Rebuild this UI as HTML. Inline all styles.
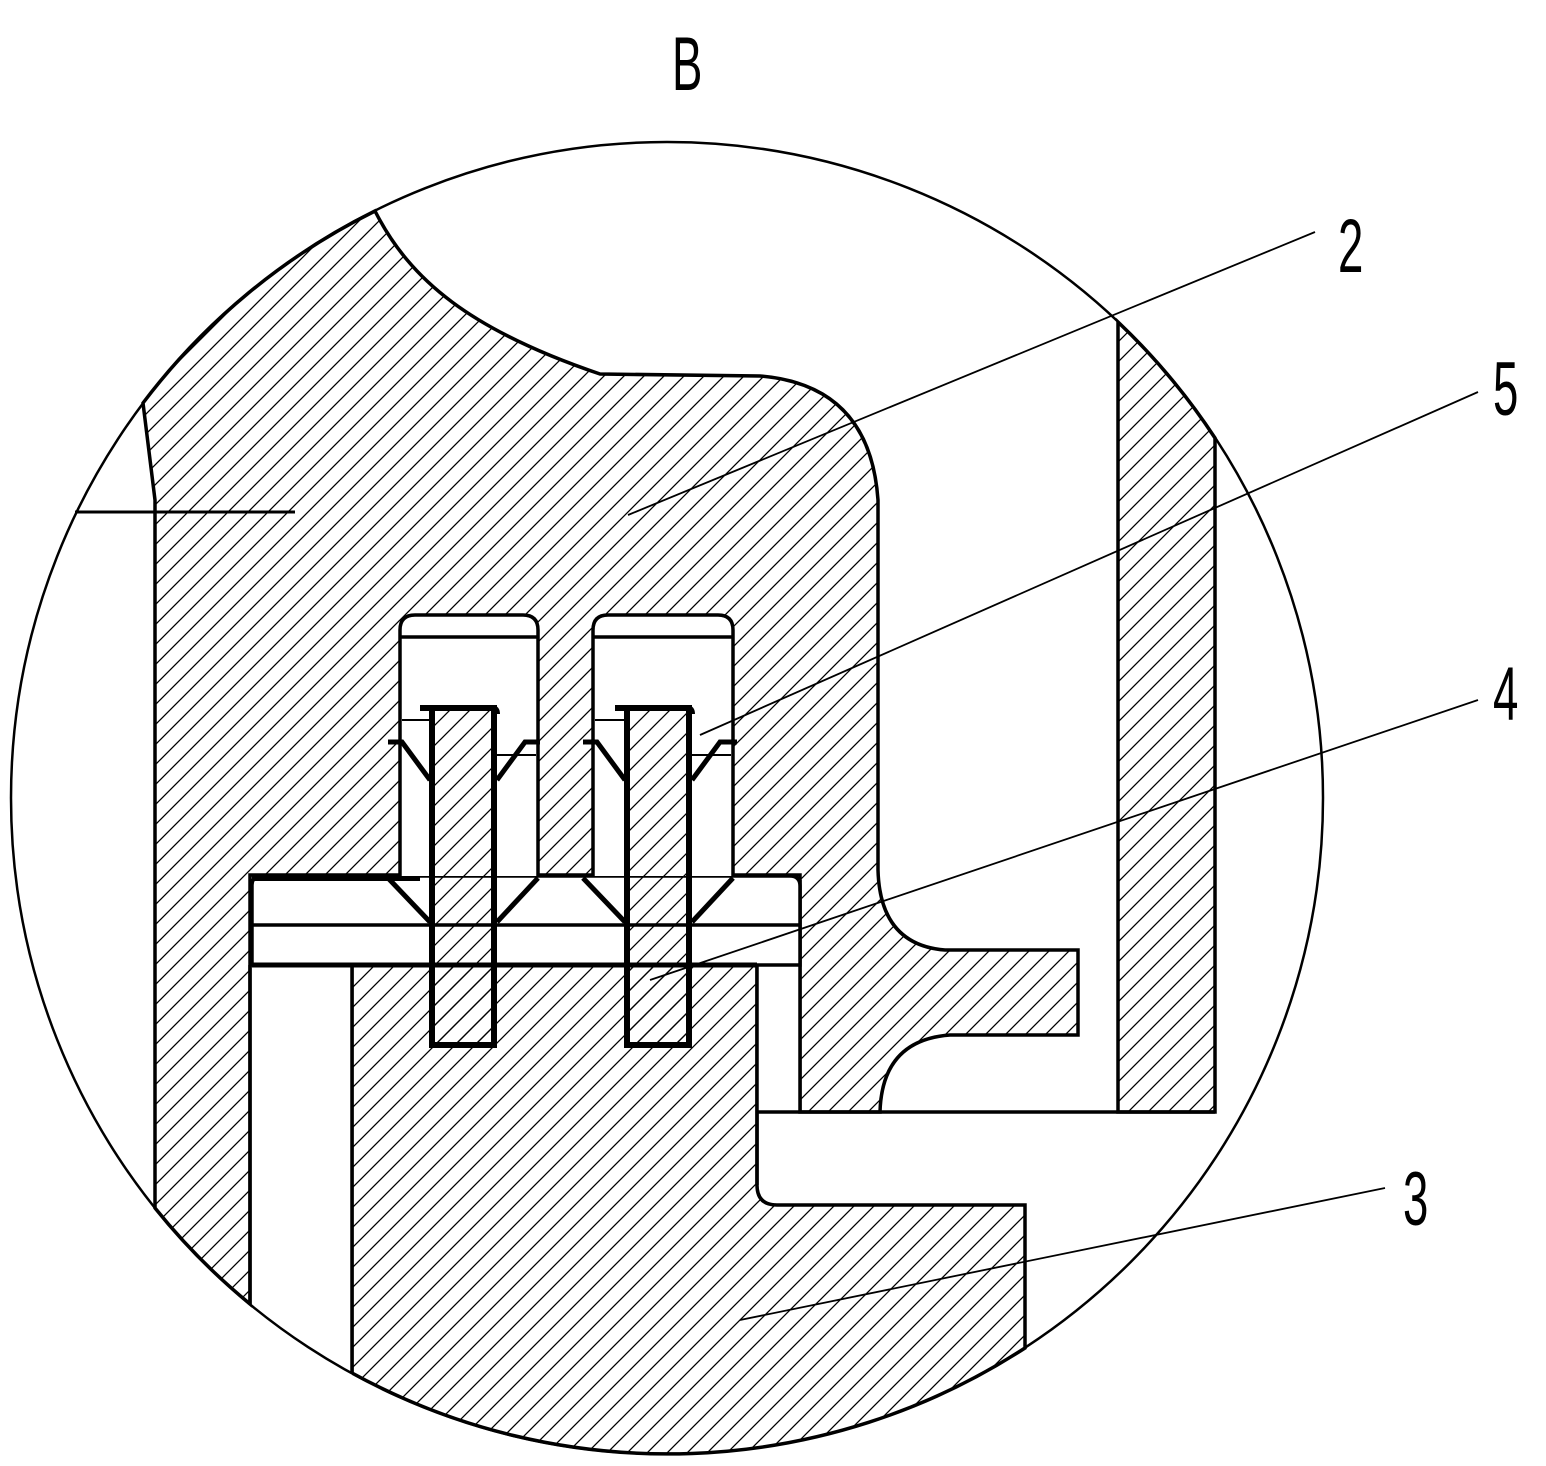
<!DOCTYPE html>
<html><head><style>
html,body{margin:0;padding:0;background:#fff;}
svg{display:block}
text{font-family:"Liberation Sans",sans-serif;}
</style></head><body>
<svg width="1546" height="1466" viewBox="0 0 1546 1466" xmlns="http://www.w3.org/2000/svg">
<defs>
<pattern id="h" patternUnits="userSpaceOnUse" width="20" height="20">
<path d="M-5,5 L5,-5 M0,20 L20,0 M15,25 L25,15" stroke="#000" stroke-width="1.3"/>
</pattern>
</defs>
<rect width="1546" height="1466" fill="#fff"/>
<path d="M375,211 A656,656 0 0 0 143,403 L155,500 L155,1208 A656,656 0 0 0 250,1304 L250,875 L800,875 L800,1112 L880,1112 Q882,1040 950,1035 L1078,1035 L1078,950 L945,950 Q880,945 878,870 L878,500 Q870,385 760,376 L600,374 C470,330 410,280 375,211 Z" fill="url(#h)" stroke="#000" stroke-width="3.5"/>
<path d="M352,965 L757,965 L757,1185 Q757,1205 777,1205 L1025,1205 L1025,1348 A656,656 0 0 1 352,1373 Z" fill="url(#h)" stroke="#000" stroke-width="3.5"/>
<path d="M1118,322 L1118,1112 L1215,1112 L1215,438 A656,656 0 0 0 1118,322 Z" fill="url(#h)" stroke="#000" stroke-width="3.5"/>
<rect x="252" y="965" width="100" height="420" fill="#fff"/>
<line x1="250" y1="965" x2="250" y2="1304" stroke="#000" stroke-width="3.5"/>
<line x1="352" y1="965" x2="352" y2="1373" stroke="#000" stroke-width="3.5"/>
<rect x="758" y="966" width="41" height="145" fill="#fff"/>
<line x1="757" y1="965" x2="757" y2="1185" stroke="#000" stroke-width="3.5"/>
<line x1="757" y1="1112" x2="1215" y2="1112" stroke="#000" stroke-width="3.5"/>
<line x1="800" y1="880" x2="800" y2="1112" stroke="#000" stroke-width="3.5"/>
<path d="M252,965 L252,885 Q252,876 262,876 L790,876 Q800,876 800,886 L800,965 Z" fill="#fff" stroke="#000" stroke-width="3.5"/>
<line x1="252" y1="878" x2="420" y2="878" stroke="#000" stroke-width="6"/>
<line x1="252" y1="925" x2="800" y2="925" stroke="#000" stroke-width="3.5"/>
<line x1="252" y1="965" x2="757" y2="965" stroke="#000" stroke-width="5"/>
<path d="M400,876 L400,630 Q400,615 415,615 L523,615 Q538,615 538,630 L538,876" fill="#fff" stroke="#000" stroke-width="3.5"/>
<path d="M593,876 L593,630 Q593,615 608,615 L718,615 Q733,615 733,630 L733,876" fill="#fff" stroke="#000" stroke-width="3.5"/>
<line x1="400" y1="637" x2="538" y2="637" stroke="#000" stroke-width="3.5"/>
<line x1="593" y1="637" x2="733" y2="637" stroke="#000" stroke-width="3.5"/>
<line x1="402" y1="720" x2="430" y2="720" stroke="#000" stroke-width="2"/>
<line x1="595" y1="720" x2="625" y2="720" stroke="#000" stroke-width="2"/>
<line x1="495" y1="755" x2="536" y2="755" stroke="#000" stroke-width="2"/>
<line x1="690" y1="755" x2="731" y2="755" stroke="#000" stroke-width="2"/>
<rect x="432" y="708" width="62" height="337" fill="url(#h)" stroke="#000" stroke-width="6"/>
<rect x="627" y="708" width="62" height="337" fill="url(#h)" stroke="#000" stroke-width="6"/>
<path d="M420,708 L492,708 Q497,708 497,714" fill="none" stroke="#000" stroke-width="6"/>
<path d="M615,708 L687,708 Q692,708 692,714" fill="none" stroke="#000" stroke-width="6"/>
<g stroke="#000" stroke-width="5" fill="none">
<path d="M388,742 L402,742 L430,780"/>
<path d="M540,742 L525,742 L497,780"/>
<path d="M388,878 L430,922"/>
<path d="M538,878 L497,922"/>
<path d="M583,742 L597,742 L625,780"/>
<path d="M737,742 L720,742 L692,780"/>
<path d="M583,878 L625,922"/>
<path d="M733,878 L692,922"/>
</g>
<circle cx="667" cy="798" r="656" fill="none" stroke="#000" stroke-width="2.5"/>
<line x1="75" y1="512" x2="295" y2="512" stroke="#000" stroke-width="3"/>
<g stroke="#000" stroke-width="1.8">
<line x1="628" y1="515" x2="1315" y2="232"/>
<line x1="700" y1="735" x2="1478" y2="392"/>
<line x1="650" y1="980" x2="1478" y2="700"/>
<line x1="740" y1="1320" x2="1385" y2="1188"/>
</g>
<g font-size="76" fill="#000">
<text transform="translate(672,90) scale(0.6,1)">B</text>
<text transform="translate(1338,272) scale(0.6,1)">2</text>
<text transform="translate(1493,415) scale(0.6,1)">5</text>
<text transform="translate(1493,720) scale(0.6,1)">4</text>
<text transform="translate(1403,1225) scale(0.6,1)">3</text>
</g>
</svg>
</body></html>
